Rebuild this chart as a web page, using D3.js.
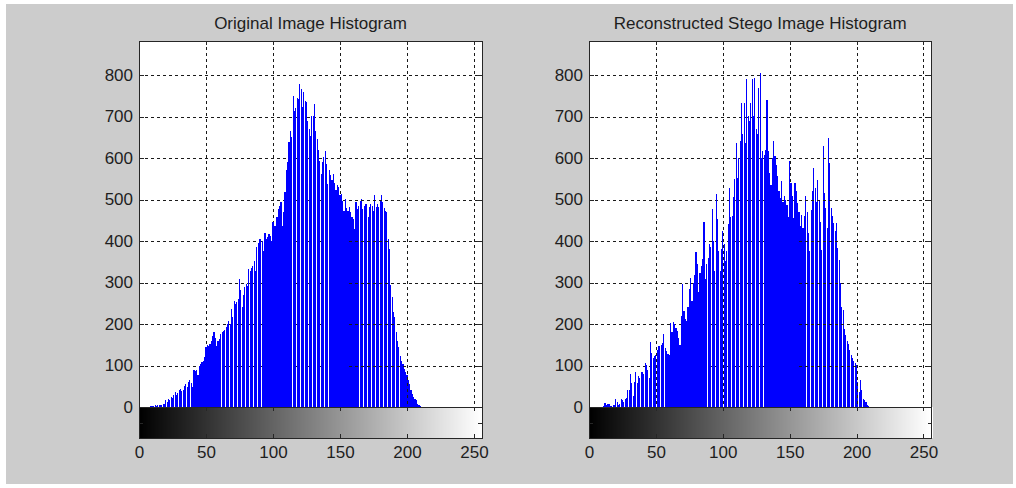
<!DOCTYPE html>
<html>
<head>
<meta charset="utf-8">
<script src="https://cdn.jsdelivr.net/npm/d3@7"></script>
<style>
  body { margin: 0; background: #fff; }
  svg text { font-family: "Liberation Sans", Arial, sans-serif; font-size: 17px; fill: #1e1e1e; }
</style>
</head>
<body>
<svg id="fig" width="1016" height="488"></svg>
<script>
// histogram counts per gray level 0..255
const origCounts = [
  0,0,0,0,0,0,0,0,1,2,
  2,3,4,3,5,4,6,5,7,8,
  16,12,20,18,24,22,30,35,28,33,
  40,44,38,42,50,56,48,60,64,58,
  48,88,86,90,76,100,104,108,112,120,
  144,150,146,152,160,170,180,166,148,160,
  164,176,180,184,186,192,200,208,200,236,
  216,256,248,252,260,308,282,240,270,288,
  296,292,332,328,334,340,352,328,385,395,
  405,405,400,377,420,405,410,417,412,400,
  445,437,437,457,477,485,493,437,470,517,
  570,590,638,666,650,750,714,720,745,742,
  778,766,722,760,738,734,690,670,654,702,
  702,730,666,646,620,594,562,590,602,618,
  586,538,570,560,546,562,540,522,534,530,
  510,514,497,473,501,480,473,481,470,457,
  453,429,493,477,485,497,501,477,485,489,
  489,457,481,490,485,473,510,481,489,481,
  500,510,493,480,473,469,405,381,293,265,
  230,217,181,160,144,124,112,104,92,84,
  76,64,56,40,32,24,20,16,8,4,
  2,0,0,0,0,0,0,0,0,0,
  0,0,0,0,0,0,0,0,0,0,
  0,0,0,0,0,0,0,0,0,0,
  0,0,0,0,0,0,0,0,0,0,
  0,0,0,0,0,0
];

const stegoCounts = [
  0,0,0,0,0,0,0,0,0,0,
  0,2,10,4,8,8,3,2,4,6,
  19,11,6,8,19,16,12,19,22,40,
  40,80,58,26,60,84,58,74,70,84,
  84,80,106,102,90,70,156,130,118,122,
  125,138,146,146,150,154,177,142,134,128,
  126,203,180,205,199,190,183,167,150,220,
  296,231,211,207,240,284,312,256,300,318,
  374,344,276,324,340,356,445,308,344,360,
  394,385,477,400,328,514,453,377,328,380,
  425,393,352,377,440,527,457,461,506,550,
  636,552,600,640,733,657,733,635,790,701,
  689,733,791,701,794,669,657,769,806,600,
  616,608,620,741,616,564,536,600,640,604,
  584,556,520,503,544,495,508,500,487,459,
  592,540,508,455,540,520,491,470,435,463,
  431,460,508,471,419,375,475,520,576,528,
  495,548,500,447,379,628,516,480,431,649,
  588,479,460,443,423,443,383,354,300,242,
  234,189,173,160,153,137,125,117,110,105,
  101,60,36,64,40,20,16,12,6,2,
  0,0,0,0,0,0,0,0,0,0,
  0,0,0,0,0,0,0,0,0,0,
  0,0,0,0,0,0,0,0,0,0,
  0,0,0,0,0,0,0,0,0,0,
  0,0,0,0,0,0
];

const grayLevels = d3.range(256);
const xTicks = [0, 50, 100, 150, 200, 250];
const yTicks = [0, 100, 200, 300, 400, 500, 600, 700, 800];
const titles = ['Original Image Histogram', 'Reconstructed Stego Image Histogram'];

const svg = d3.select('#fig');

// figure background
svg.append('rect')
  .attr('x', 6).attr('y', 4)
  .attr('width', 1007).attr('height', 480)
  .attr('fill', '#cccccc');

const plotTop = 41, zeroY = 407, cbBottom = 438;
const gridColor = '#1a1a1a';
const lineColor = '#262626';
const stemWidth = 1.14;

const histPanel = (parent, props) => {
  const { counts, title, left, right, id } = props;

  const xScale = d3.scaleLinear().domain([0, 256]).range([left, right]);
  const yScale = d3.scaleLinear().domain([0, 882]).range([zeroY, plotTop]);

  const g = parent.append('g').attr('class', 'panel-' + id);

  // plot area
  g.append('rect')
    .attr('x', left).attr('y', plotTop)
    .attr('width', right - left).attr('height', zeroY - plotTop)
    .attr('fill', '#fff');

  const drawGrid = (sel) => {
    sel.selectAll('.vgrid').data(xTicks.filter(d => d > 0))
      .enter().append('line')
        .attr('class', 'vgrid')
        .attr('x1', d => Math.round(xScale(d)) + 0.5)
        .attr('x2', d => Math.round(xScale(d)) + 0.5)
        .attr('y1', plotTop).attr('y2', zeroY);
    sel.selectAll('.hgrid').data(yTicks.filter(d => d > 0))
      .enter().append('line')
        .attr('class', 'hgrid')
        .attr('x1', left).attr('x2', right)
        .attr('y1', d => Math.round(yScale(d)) + 0.5)
        .attr('y2', d => Math.round(yScale(d)) + 0.5);
    sel.selectAll('line')
      .attr('stroke', gridColor)
      .attr('stroke-width', 1)
      .attr('stroke-dasharray', '3,3')
      .attr('shape-rendering', 'crispEdges');
  };

  // grid behind the bars
  drawGrid(g.append('g').attr('class', 'grid'));

  // stems, as thin rects so the pixel snapping leaves matlab-like seams
  g.append('g').attr('class', 'bars')
    .selectAll('rect').data(grayLevels.filter(i => counts[i] > 0))
    .enter().append('rect')
      .attr('x', i => xScale(i) - stemWidth / 2)
      .attr('width', stemWidth)
      .attr('y', i => yScale(counts[i]))
      .attr('height', i => zeroY - yScale(counts[i]))
      .attr('fill', '#0000ff')
      .attr('shape-rendering', 'crispEdges');

  // matlab draws part of the grid on top of the bars
  const clipId = 'gridclip-' + id;
  g.append('clipPath').attr('id', clipId)
    .append('rect')
      .attr('x', xScale(156.5)).attr('y', plotTop)
      .attr('width', right - xScale(156.5)).attr('height', zeroY - plotTop);
  drawGrid(g.append('g').attr('class', 'grid-over').attr('clip-path', `url(#${clipId})`));

  // box + inward ticks
  g.append('rect')
    .attr('x', left).attr('y', plotTop)
    .attr('width', right - left).attr('height', zeroY - plotTop)
    .attr('fill', 'none')
    .attr('stroke', lineColor)
    .attr('shape-rendering', 'crispEdges');

  const ticks = g.append('g').attr('class', 'ticks')
    .attr('stroke', lineColor)
    .attr('shape-rendering', 'crispEdges');
  yTicks.forEach(t => {
    const y = Math.round(yScale(t)) + 0.5;
    ticks.append('line').attr('x1', left).attr('x2', left + 5).attr('y1', y).attr('y2', y);
    ticks.append('line').attr('x1', right - 5).attr('x2', right).attr('y1', y).attr('y2', y);
  });
  xTicks.forEach(t => {
    const x = Math.round(xScale(t)) + 0.5;
    ticks.append('line').attr('x1', x).attr('x2', x).attr('y1', plotTop).attr('y2', plotTop + 4);
  });

  // grayscale colour bar
  const cb = g.append('g').attr('class', 'colorbar');
  cb.selectAll('rect').data(grayLevels)
    .enter().append('rect')
      .attr('x', i => xScale(i))
      .attr('y', zeroY)
      .attr('width', i => xScale(i + 1) - xScale(i) + 1)
      .attr('height', cbBottom - zeroY)
      .attr('fill', i => d3.rgb(i, i, i))
      .attr('shape-rendering', 'crispEdges');
  cb.append('rect')
    .attr('x', left).attr('y', zeroY)
    .attr('width', right - left).attr('height', cbBottom - zeroY)
    .attr('fill', 'none')
    .attr('stroke', lineColor)
    .attr('shape-rendering', 'crispEdges');
  const cbTicks = cb.append('g')
    .attr('stroke', lineColor)
    .attr('shape-rendering', 'crispEdges');
  xTicks.forEach(t => {
    const x = Math.round(xScale(t)) + 0.5;
    cbTicks.append('line').attr('x1', x).attr('x2', x).attr('y1', zeroY).attr('y2', zeroY + 4);
    cbTicks.append('line').attr('x1', x).attr('x2', x).attr('y1', cbBottom - 4).attr('y2', cbBottom);
  });
  const midY = Math.round((zeroY + cbBottom) / 2) + 0.5;
  cbTicks.append('line').attr('x1', right - 4).attr('x2', right).attr('y1', midY).attr('y2', midY);
  cbTicks.append('line').attr('x1', left).attr('x2', left + 4).attr('y1', midY).attr('y2', midY);

  // tick labels
  const yAxisG = g.append('g')
    .attr('transform', `translate(${left},0)`)
    .call(d3.axisLeft(yScale).tickValues(yTicks).tickSize(0).tickPadding(6).tickFormat(d3.format('d')));
  yAxisG.select('.domain').remove();

  const xAxisG = g.append('g')
    .attr('transform', `translate(0,${cbBottom})`)
    .call(d3.axisBottom(xScale).tickValues(xTicks).tickSize(0).tickPadding(8).tickFormat(d3.format('d')));
  xAxisG.select('.domain').remove();

  [yAxisG, xAxisG].forEach(a => {
    a.attr('font-family', null).attr('font-size', null);
    a.selectAll('text').attr('fill', '#1e1e1e');
  });

  // title
  g.append('text')
    .attr('x', (left + right) / 2)
    .attr('y', 28.5)
    .attr('text-anchor', 'middle')
    .text(title);
};

histPanel(svg, { counts: origCounts, title: titles[0], left: 139, right: 482, id: 'orig' });
histPanel(svg, { counts: stegoCounts, title: titles[1], left: 589, right: 931.5, id: 'stego' });
</script>
</body>
</html>
